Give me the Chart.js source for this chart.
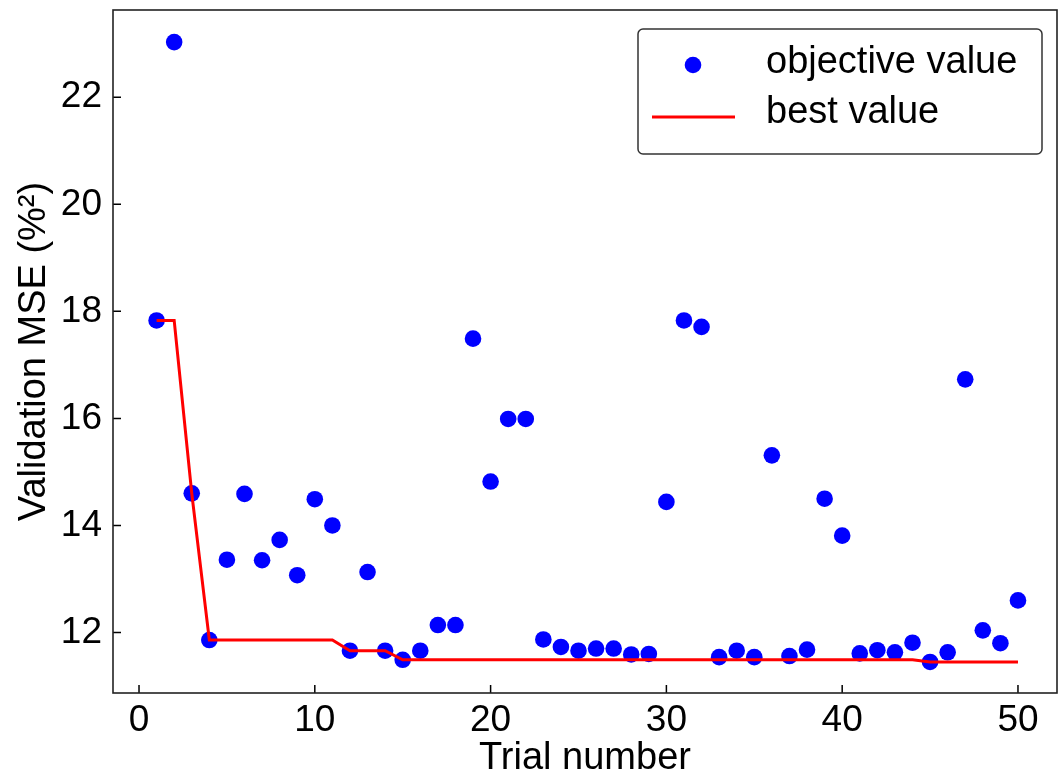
<!DOCTYPE html>
<html>
<head>
<meta charset="utf-8">
<script src="https://cdn.jsdelivr.net/npm/chart.js@4.4.1/dist/chart.umd.min.js"></script>
<style>
  html, body { margin: 0; padding: 0; background: #fff; }
  #chart { display: block; }
</style>
</head>
<body>
<canvas id="chart" width="1059" height="778"></canvas>
<script>
const trials = [1, 2, 3, 4, 5, 6, 7, 8, 9, 10, 11, 12, 13, 14, 15, 16, 17, 18, 19, 20,
  21, 22, 23, 24, 25, 26, 27, 28, 29, 30, 31, 32, 33, 34, 35, 36, 37, 38, 39, 40,
  41, 42, 43, 44, 45, 46, 47, 48, 49, 50];

const objectiveValues = [17.83, 23.03, 14.60, 11.86, 13.36, 14.59, 13.35, 13.73, 13.07, 14.49,
  14.00, 11.66, 13.13, 11.66, 11.49, 11.66, 12.14, 12.14, 17.49, 14.82,
  15.99, 15.99, 11.87, 11.73, 11.66, 11.70, 11.70, 11.59, 11.60, 14.44,
  17.83, 17.71, 11.54, 11.66, 11.54, 15.31, 11.56, 11.68, 14.50, 13.81,
  11.61, 11.67, 11.63, 11.81, 11.45, 11.63, 16.73, 12.04, 11.80, 12.60];

const bestValues = [17.83, 17.83, 14.60, 11.86, 11.86, 11.86, 11.86, 11.86, 11.86, 11.86,
  11.86, 11.66, 11.66, 11.66, 11.49, 11.49, 11.49, 11.49, 11.49, 11.49,
  11.49, 11.49, 11.49, 11.49, 11.49, 11.49, 11.49, 11.49, 11.49, 11.49,
  11.49, 11.49, 11.49, 11.49, 11.49, 11.49, 11.49, 11.49, 11.49, 11.49,
  11.49, 11.49, 11.49, 11.49, 11.45, 11.45, 11.45, 11.45, 11.45, 11.45];

const xTicks = [0, 10, 20, 30, 40, 50];
const yTicks = [12, 14, 16, 18, 20, 22];
const seriesLabels = ['objective value', 'best value'];

const FONT = "'Liberation Sans', Arial, sans-serif";

// spines (all four sides) and inward tick marks
const frameAndTicks = {
  id: 'frameAndTicks',
  afterDraw(chart) {
    const { ctx, chartArea: a } = chart;
    const xs = chart.scales.x, ys = chart.scales.y;
    ctx.save();
    ctx.strokeStyle = '#000';
    ctx.lineWidth = 1.5;
    ctx.beginPath();
    xTicks.forEach(v => {
      const px = xs.getPixelForValue(v);
      ctx.moveTo(px, a.bottom);
      ctx.lineTo(px, a.bottom - 8);
    });
    yTicks.forEach(v => {
      const py = ys.getPixelForValue(v);
      ctx.moveTo(a.left, py);
      ctx.lineTo(a.left + 8, py);
    });
    ctx.stroke();
    ctx.strokeStyle = '#222';
    ctx.lineWidth = 1.6;
    ctx.strokeRect(a.left, a.top, a.right - a.left, a.bottom - a.top);
    ctx.restore();
  }
};

// legend box inside the plot, top right
const boxLegend = {
  id: 'boxLegend',
  afterDraw(chart) {
    const ctx = chart.ctx;
    const ds = chart.data.datasets;
    const bx = 638, by = 29, bw = 404, bh = 125;
    ctx.save();
    ctx.fillStyle = 'rgba(255,255,255,0.85)';
    ctx.strokeStyle = '#333';
    ctx.lineWidth = 1.5;
    ctx.beginPath();
    ctx.roundRect(bx, by, bw, bh, 5);
    ctx.fill();
    ctx.stroke();

    // marker for scatter
    ctx.fillStyle = ds[1].backgroundColor;
    ctx.beginPath();
    ctx.arc(693, 65, 8.3, 0, Math.PI * 2);
    ctx.fill();

    // line sample
    ctx.strokeStyle = ds[0].borderColor;
    ctx.lineWidth = 3;
    ctx.beginPath();
    ctx.moveTo(652, 117);
    ctx.lineTo(735, 117);
    ctx.stroke();

    ctx.fillStyle = '#000';
    ctx.font = '38px ' + FONT;
    ctx.textBaseline = 'alphabetic';
    ctx.textAlign = 'left';
    ctx.fillText(ds[1].label, 766, 73);
    ctx.fillText(ds[0].label, 766, 123);
    ctx.restore();
  }
};

new Chart(document.getElementById('chart').getContext('2d'), {
  data: {
    datasets: [
      {
        type: 'line',
        label: seriesLabels[1],
        data: trials.map((t, i) => ({ x: t, y: bestValues[i] })),
        borderColor: '#ff0000',
        borderWidth: 3,
        pointRadius: 0,
        fill: false,
        tension: 0,
        order: 0
      },
      {
        type: 'scatter',
        label: seriesLabels[0],
        data: trials.map((t, i) => ({ x: t, y: objectiveValues[i] })),
        backgroundColor: '#0000ff',
        borderWidth: 0,
        pointRadius: 8.3,
        pointHoverRadius: 8.3,
        order: 1
      }
    ]
  },
  options: {
    responsive: false,
    animation: false,
    events: [],
    layout: { autoPadding: false, padding: { top: 10, right: 2, left: 0, bottom: 0 } },
    plugins: {
      legend: { display: false },
      tooltip: { enabled: false }
    },
    scales: {
      x: {
        type: 'linear',
        min: -1.48,
        max: 52.22,
        afterBuildTicks: s => { s.ticks = xTicks.map(v => ({ value: v })); },
        afterFit: s => { s.height = 85; s.paddingLeft = 0; s.paddingRight = 0; },
        grid: { display: false, drawTicks: false },
        border: { display: false },
        ticks: {
          color: '#000',
          padding: 6,
          maxRotation: 0,
          font: { family: FONT, size: 37 }
        },
        title: {
          display: true,
          text: 'Trial number',
          color: '#000',
          padding: { top: 0, bottom: -3 },
          font: { family: FONT, size: 38 }
        }
      },
      y: {
        type: 'linear',
        min: 10.87,
        max: 23.63,
        afterBuildTicks: s => { s.ticks = yTicks.map(v => ({ value: v })); },
        afterFit: s => { s.width = 113; s.paddingTop = 0; s.paddingBottom = 0; },
        grid: { display: false, drawTicks: false },
        border: { display: false },
        ticks: {
          color: '#000',
          padding: 11,
          font: { family: FONT, size: 37 }
        },
        title: {
          display: true,
          text: 'Validation MSE (%²)',
          color: '#000',
          padding: { top: 12, bottom: 0 },
          font: { family: FONT, size: 38 }
        }
      }
    }
  },
  plugins: [frameAndTicks, boxLegend]
});
</script>
</body>
</html>
